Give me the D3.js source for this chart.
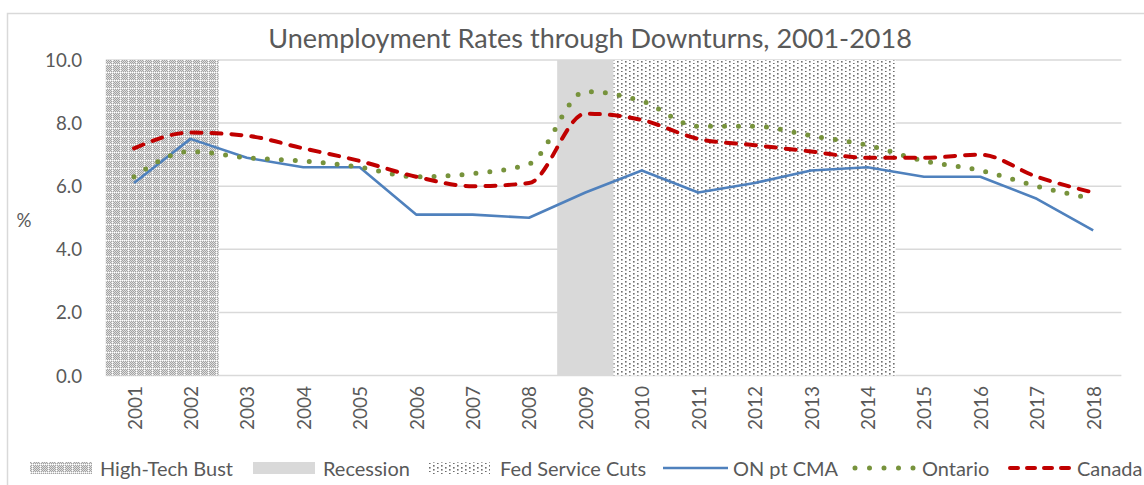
<!DOCTYPE html>
<html><head><meta charset="utf-8">
<script src="https://cdn.jsdelivr.net/npm/d3@7/dist/d3.min.js"></script>
<style>html,body{margin:0;padding:0;background:#fff;}svg{display:block;}</style>
</head><body><svg id="c" width="1144" height="485"></svg>
<script>
// ---- data ----
const years = ["2001","2002","2003","2004","2005","2006","2007","2008","2009","2010","2011","2012","2013","2014","2015","2016","2017","2018"];
const onCMA   = [6.1,7.5,6.9,6.6,6.6,5.1,5.1,5.0,5.8,6.5,5.8,6.1,6.5,6.6,6.3,6.3,5.6,4.6];
const ontario = [6.3,7.1,6.9,6.8,6.6,6.3,6.4,6.7,9.0,8.7,7.9,7.9,7.6,7.3,6.8,6.5,6.0,5.6];
const canada  = [7.2,7.7,7.6,7.2,6.8,6.3,6.0,6.1,8.3,8.1,7.5,7.3,7.1,6.9,6.9,7.0,6.3,5.8];
const periodNames = ["High-Tech Bust","Recession","Fed Service Cuts"];
const periodStart = ["2001","2009","2010"];
const periodEnd   = ["2002","2009","2014"];
const yTicks = [0,2,4,6,8,10];
const seriesNames = ["ON pt CMA","Ontario","Canada"];
const titleText = "Unemployment Rates through Downturns, 2001-2018";

// ---- layout ----
const svg = d3.select("#c");
const TXT = "#595959", FONT = "Lato, 'Open Sans', sans-serif";
const L = 105.8, R = 1121.4, T = 60, B = 375.5;
svg.append("rect").attr("width",1144).attr("height",485).attr("fill","#fff");
svg.append("rect").attr("x",7.5).attr("y",13.5).attr("width",1300).attr("height",600)
  .attr("fill","none").attr("stroke","#d9d9d9").attr("stroke-width",1.5);

const x = d3.scaleBand().domain(years).range([L,R]).padding(0);
const y = d3.scaleLinear().domain([0,10]).range([B,T]);
const cx = yr => x(yr) + x.bandwidth()/2;

// patterns
const defs = svg.append("defs");
const p1 = defs.append("pattern").attr("id","htb").attr("patternUnits","userSpaceOnUse")
  .attr("width",8).attr("height",8);
for (let i=0;i<8;i++) for (let j=0;j<8;j++){
  let c = ((i+j)%2===0) ? "#a3a3a3" : "#dedede";
  if ((i===0 && j%2===0) || (j===0 && i%2===0)) c = "#ffffff";
  p1.append("rect").attr("x",i).attr("y",j).attr("width",1).attr("height",1).attr("fill",c);
}
const p3 = defs.append("pattern").attr("id","fed").attr("patternUnits","userSpaceOnUse")
  .attr("width",8).attr("height",8);
p3.append("rect").attr("width",8).attr("height",8).attr("fill","#fff");
[[1,1],[5,3],[1,5],[5,7]].forEach(([a,b])=>p3.append("rect").attr("x",a).attr("y",b)
  .attr("width",1.6).attr("height",1.6).attr("fill","#6e6e6e"));
const fills = ["url(#htb)","#d9d9d9","url(#fed)"];

// gridlines
svg.append("g").selectAll("line").data(yTicks).join("line")
  .attr("x1",L).attr("x2",R).attr("y1",d=>y(d)).attr("y2",d=>y(d))
  .attr("stroke","#d9d9d9").attr("stroke-width",1.5);

// shaded periods
svg.append("g").selectAll("rect").data(periodNames).join("rect")
  .attr("x",(d,i)=>x(periodStart[i]))
  .attr("width",(d,i)=>x(periodEnd[i])+x.bandwidth()-x(periodStart[i]))
  .attr("y",y(10)).attr("height",y(0)-y(10))
  .attr("fill",(d,i)=>fills[i]);

// lines
const lineLin = d3.line().x((d,i)=>cx(years[i])).y(d=>y(d));
const lineSm = d3.line().x((d,i)=>cx(years[i])).y(d=>y(d)).curve(d3.curveMonotoneX);
svg.append("path").attr("d",lineLin(onCMA)).attr("fill","none").attr("stroke","#4f81bd")
  .attr("stroke-width",2.6).attr("stroke-linejoin","round");
svg.append("path").attr("d",lineSm(ontario)).attr("fill","none").attr("stroke","#77933c")
  .attr("stroke-width",5).attr("stroke-linecap","round").attr("stroke-dasharray","0,14");
svg.append("path").attr("d",lineSm(canada)).attr("fill","none").attr("stroke","#c00000")
  .attr("stroke-width",4).attr("stroke-linecap","round").attr("stroke-dasharray","10,10");

// fit helper
function fitSize(sel, target){
  const n = sel.node(); const fs = parseFloat(sel.attr("font-size"));
  const w = n.getComputedTextLength(); return fs*target/w;
}

// y axis labels
const yl = svg.append("g").selectAll("text").data(yTicks).join("text")
  .attr("x",82).attr("y",d=>y(d)).attr("text-anchor","end").attr("dominant-baseline","central")
  .attr("fill",TXT).attr("font-family",FONT).attr("font-size",18).text(d=>d.toFixed(1));
const ys = fitSize(d3.select(yl.nodes()[5]),37);
yl.attr("font-size",ys);
svg.append("text").attr("x",24).attr("y",220).attr("text-anchor","middle").attr("dominant-baseline","central")
  .attr("fill",TXT).attr("font-family",FONT).attr("font-size",ys).text("%");

// x axis labels
const xl = svg.append("g").selectAll("text").data(years).join("text")
  .attr("transform",d=>`translate(${cx(d)},386) rotate(-90)`)
  .attr("text-anchor","end").attr("dominant-baseline","central")
  .attr("fill",TXT).attr("font-family",FONT).attr("font-size",18).text(d=>d);
xl.attr("font-size",fitSize(d3.select(xl.nodes()[0]),44));

// title
const tt = svg.append("text").attr("x",590).attr("y",48).attr("text-anchor","middle")
  .attr("fill",TXT).attr("font-family",FONT).attr("font-size",24).text(titleText);
tt.attr("font-size",fitSize(tt,644));

// legend
const LY = 468;
const swX = [[30,92],[253,315],[429,490]];
const txX = [100,323,500];
periodNames.forEach((nm,i)=>{
  svg.append("rect").attr("x",swX[i][0]).attr("y",LY-6).attr("width",swX[i][1]-swX[i][0]).attr("height",12)
    .attr("fill",fills[i]);
});
const lnX = [[663,728],[853,915],[1008,1074]];
const lnTx = [733,922,1077];
svg.append("line").attr("x1",lnX[0][0]).attr("x2",lnX[0][1]).attr("y1",LY).attr("y2",LY)
  .attr("stroke","#4f81bd").attr("stroke-width",2.6);
svg.append("line").attr("x1",lnX[1][0]+2).attr("x2",lnX[1][1]).attr("y1",LY).attr("y2",LY)
  .attr("stroke","#77933c").attr("stroke-width",5).attr("stroke-linecap","round").attr("stroke-dasharray","0,14.5");
svg.append("line").attr("x1",lnX[2][0]+2).attr("x2",lnX[2][1]).attr("y1",LY).attr("y2",LY)
  .attr("stroke","#c00000").attr("stroke-width",4).attr("stroke-linecap","round").attr("stroke-dasharray","8,9");
const legTexts = periodNames.concat(seriesNames);
const legX = txX.concat(lnTx);
const lt = svg.append("g").selectAll("text").data(legTexts).join("text")
  .attr("x",(d,i)=>legX[i]).attr("y",LY).attr("dominant-baseline","central")
  .attr("fill",TXT).attr("font-family",FONT).attr("font-size",18).text(d=>d);
lt.attr("font-size",fitSize(d3.select(lt.nodes()[0]),133));
</script></body></html>
